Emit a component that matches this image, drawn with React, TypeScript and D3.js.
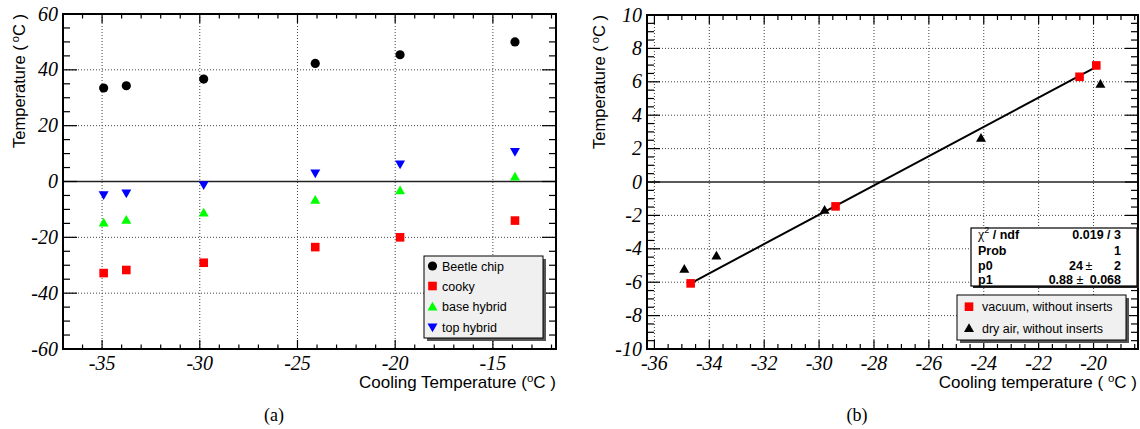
import React from "react";
import * as d3 from "d3";

// ---------- Panel (a) data ----------
const coolingA = [-34.92, -33.76, -29.8, -24.09, -19.75, -13.87];
const beetleChip = [33.5, 34.3, 36.7, 42.3, 45.4, 50.0];
const cooky = [-32.8, -31.7, -29.1, -23.5, -20.0, -14.0];
const baseHybrid = [-14.8, -13.8, -11.2, -6.6, -3.2, 1.7];
const topHybrid = [-4.8, -4.2, -1.25, 3.0, 6.2, 10.7];
const ticksAX = [-35, -30, -25, -20, -15];
const ticksAY = [-60, -40, -20, 0, 20, 40, 60];
const legendA = ["Beetle chip", "cooky", "base hybrid", "top hybrid"];

// ---------- Panel (b) data ----------
const vacuumX = [-34.68, -29.4, -20.51, -19.9];
const vacuumY = [-6.07, -1.46, 6.3, 6.98];
const dryAirX = [-34.91, -33.74, -29.8, -24.1, -19.75];
const dryAirY = [-5.21, -4.41, -1.68, 2.63, 5.87];
const fitP0 = 24.35;
const fitP1 = 0.877;
const ticksBX = [-36, -34, -32, -30, -28, -26, -24, -22, -20];
const ticksBY = [-10, -8, -6, -4, -2, 0, 2, 4, 6, 8, 10];
const legendB = ["vacuum, without inserts", "dry air, without inserts"];
const statsLabels = ["Prob", "p0", "p1"];
const statsValues = ["1", "24", "0.88"];
const statsErrors = ["", "2", "0.068"];

const SANS = "Liberation Sans, Arial, Helvetica, sans-serif";
const SERIF = "Liberation Serif, Times New Roman, Times, DejaVu Serif, serif";

type Box = { x0: number; x1: number; y0: number; y1: number };

function Marker({ type, x, y, color }: { type: string; x: number; y: number; color: string }) {
  if (type === "circle") return <circle cx={x} cy={y} r={4.6} fill={color} />;
  if (type === "square") return <rect x={x - 4.3} y={y - 4.3} width={8.6} height={8.6} fill={color} />;
  const s = 5;
  if (type === "up")
    return <path d={`M${x},${y - s} L${x + s},${y + s * 0.75} L${x - s},${y + s * 0.75} Z`} fill={color} />;
  return <path d={`M${x},${y + s} L${x + s},${y - s * 0.75} L${x - s},${y - s * 0.75} Z`} fill={color} />;
}

function Frame({
  box, xs, ys, majorX, minorX, majorY, minorY, tl,
}: {
  box: Box; xs: any; ys: any; majorX: number[]; minorX: number[]; majorY: number[]; minorY: number[];
  tl: { xM: number; xm: number; yM: number; ym: number };
}) {
  const els: React.ReactNode[] = [];
  majorX.forEach((v, i) =>
    els.push(<line key={"gx" + i} x1={xs(v)} x2={xs(v)} y1={box.y0} y2={box.y1} stroke="#444" strokeWidth={1} strokeDasharray="1,2" />)
  );
  majorY.filter((v) => v !== 0).forEach((v, i) =>
    els.push(<line key={"gy" + i} x1={box.x0} x2={box.x1} y1={ys(v)} y2={ys(v)} stroke="#444" strokeWidth={1} strokeDasharray="1,2" />)
  );
  els.push(<line key="zero" x1={box.x0} x2={box.x1} y1={ys(0)} y2={ys(0)} stroke="#222" strokeWidth={1.6} />);
  const tick = (key: string, x1: number, y1: number, x2: number, y2: number) =>
    els.push(<line key={key} x1={x1} y1={y1} x2={x2} y2={y2} stroke="#000" strokeWidth={1.2} />);
  minorX.forEach((v, i) => {
    const isM = majorX.includes(v);
    const L = isM ? tl.xM : tl.xm;
    tick("tb" + i, xs(v), box.y1, xs(v), box.y1 - L);
    tick("tt" + i, xs(v), box.y0, xs(v), box.y0 + L);
  });
  minorY.forEach((v, i) => {
    const isM = majorY.includes(v);
    const L = isM ? tl.yM : tl.ym;
    tick("tl" + i, box.x0, ys(v), box.x0 + L, ys(v));
    tick("tr" + i, box.x1, ys(v), box.x1 - L, ys(v));
  });
  els.push(
    <rect key="frame" x={box.x0} y={box.y0} width={box.x1 - box.x0} height={box.y1 - box.y0} fill="none" stroke="#000" strokeWidth={2} />
  );
  majorX.forEach((v, i) =>
    els.push(
      <text key={"lx" + i} x={xs(v)} y={box.y1 + 21} textAnchor="middle" fontFamily={SERIF} fontStyle="italic" fontSize={20}>
        {String(v)}
      </text>
    )
  );
  majorY.forEach((v, i) =>
    els.push(
      <text key={"ly" + i} x={box.x0 - 5} y={ys(v) + 6.5} textAnchor="end" fontFamily={SERIF} fontStyle="italic" fontSize={20}>
        {String(v)}
      </text>
    )
  );
  return <g>{els}</g>;
}

function YTitle({ x, y }: { x: number; y: number }) {
  return (
    <text transform={`translate(${x},${y}) rotate(-90)`} textAnchor="end" fontFamily={SANS} fontSize={16.5}>
      Temperature (<tspan fontSize={11} dy={-6}> o</tspan>
      <tspan dy={6}>C )</tspan>
    </text>
  );
}

export default function App() {
  const boxA: Box = { x0: 63, x1: 556, y0: 14, y1: 349 };
  const xa = d3.scaleLinear().domain([-37, -11.77]).range([boxA.x0, boxA.x1]);
  const ya = d3.scaleLinear().domain([-60, 60]).range([boxA.y1, boxA.y0]);
  const minorAX = d3.range(-37, -11, 1);
  const minorAY = d3.range(-60, 61, 5);

  const boxB: Box = { x0: 647, x1: 1138, y0: 15, y1: 349 };
  const xb = d3.scaleLinear().domain([-36.27, -18.38]).range([boxB.x0, boxB.x1]);
  const yb = d3.scaleLinear().domain([-10, 10]).range([boxB.y1, boxB.y0]);
  const minorBX = d3.range(-36, -18.3, 0.5).map((v) => Math.round(v * 10) / 10);
  const minorBY = d3.range(-10, 10.01, 0.5).map((v) => Math.round(v * 10) / 10);

  const seriesA = [
    { vals: beetleChip, type: "circle", color: "#000" },
    { vals: cooky, type: "square", color: "#ff0000" },
    { vals: baseHybrid, type: "up", color: "#00ff00" },
    { vals: topHybrid, type: "down", color: "#0000ff" },
  ];

  const fitLine = d3
    .line<number>()
    .x((v) => xb(v))
    .y((v) => yb(fitP0 + fitP1 * v));
  const fitXs = [d3.min(vacuumX) as number, d3.max(vacuumX) as number];

  const legAy = [266, 286, 306.7, 327.3];
  const statsY = [255, 270, 284];
  const statsValEnd = [1121, 1083, 1073];
  const statsPm = [0, 1089, 1080];
  const SF = 12.5;

  return (
    <svg width={1140} height={429} style={{ position: "absolute", left: 0, top: 0, background: "#fff" }}>
      {/* ---------------- Panel (a) ---------------- */}
      <Frame box={boxA} xs={xa} ys={ya} majorX={ticksAX} minorX={minorAX} majorY={ticksAY} minorY={minorAY}
        tl={{ xM: 9, xm: 4.5, yM: 14, ym: 7 }} />
      {seriesA.map((s, si) =>
        s.vals.map((v, i) => <Marker key={`a${si}-${i}`} type={s.type} x={xa(coolingA[i])} y={ya(v)} color={s.color} />)
      )}
      <rect x={427} y={259} width={119} height={82} fill="#555" />
      <rect x={424} y={256} width={119} height={82} fill="#f0f0f0" stroke="#000" strokeWidth={1} />
      {legendA.map((t, i) => (
        <g key={"la" + i}>
          <Marker type={seriesA[i].type} x={432.5} y={legAy[i]} color={seriesA[i].color} />
          <text x={442} y={legAy[i] + 4.5} fontFamily={SANS} fontSize={12.5}>{t}</text>
        </g>
      ))}
      <YTitle x={25} y={14} />
      <text x={556} y={388} textAnchor="end" fontFamily={SANS} fontSize={17}>
        Cooling Temperature (<tspan fontSize={11.5} dy={-6}>o</tspan>
        <tspan dy={6}>C )</tspan>
      </text>
      <text x={274} y={421} textAnchor="middle" fontFamily={SERIF} fontSize={18}>(a)</text>

      {/* ---------------- Panel (b) ---------------- */}
      <Frame box={boxB} xs={xb} ys={yb} majorX={ticksBX} minorX={minorBX} majorY={ticksBY} minorY={minorBY}
        tl={{ xM: 9, xm: 5, yM: 13, ym: 7 }} />
      <path d={fitLine(fitXs) || ""} stroke="#000" strokeWidth={2} fill="none" />
      {vacuumX.map((v, i) => <Marker key={"v" + i} type="square" x={xb(v)} y={yb(vacuumY[i])} color="#ff0000" />)}
      {dryAirX.map((v, i) => <Marker key={"d" + i} type="up" x={xb(v)} y={yb(dryAirY[i])} color="#000" />)}

      {/* stats box */}
      <rect x={973} y={230} width={166} height={58} fill="#222" />
      <rect x={971} y={228} width={166} height={58} fill="#fff" stroke="#000" strokeWidth={1.2} />
      <text x={978} y={239} fontFamily={SANS} fontSize={SF} fontWeight="bold">
        <tspan fontFamily={SERIF} fontWeight="normal" fontSize={14}>χ</tspan>
        <tspan fontSize={9} dy={-6} fontWeight="normal">2</tspan>
        <tspan dy={6}> / ndf</tspan>
      </text>
      <text x={1121} y={239} textAnchor="end" fontFamily={SANS} fontSize={SF} fontWeight="bold">0.019 / 3</text>
      {statsLabels.map((t, i) => (
        <g key={"st" + i}>
          <text x={978} y={statsY[i]} fontFamily={SANS} fontSize={SF} fontWeight="bold">{t}</text>
          {statsErrors[i] === "" ? (
            <text x={1121} y={statsY[i]} textAnchor="end" fontFamily={SANS} fontSize={SF} fontWeight="bold">{statsValues[i]}</text>
          ) : (
            <>
              <text x={statsValEnd[i]} y={statsY[i]} textAnchor="end" fontFamily={SANS} fontSize={SF} fontWeight="bold">{statsValues[i]}</text>
              <text x={statsPm[i]} y={statsY[i]} textAnchor="middle" fontFamily={SANS} fontSize={SF}>±</text>
              <text x={1121} y={statsY[i]} textAnchor="end" fontFamily={SANS} fontSize={SF} fontWeight="bold">{statsErrors[i]}</text>
            </>
          )}
        </g>
      ))}

      <rect x={960} y={298} width={169} height={45} fill="#555" />
      <rect x={957} y={295} width={169} height={45} fill="#f0f0f0" stroke="#000" strokeWidth={1} />
      <Marker type="square" x={969} y={306.7} color="#ff0000" />
      <text x={982} y={311.2} fontFamily={SANS} fontSize={12.5}>{legendB[0]}</text>
      <Marker type="up" x={969} y={328.3} color="#000" />
      <text x={982} y={332.8} fontFamily={SANS} fontSize={12.5}>{legendB[1]}</text>

      <YTitle x={605} y={15} />
      <text x={1137} y={388} textAnchor="end" fontFamily={SANS} fontSize={17}>
        Cooling temperature ( <tspan fontSize={11.5} dy={-6}>o</tspan>
        <tspan dy={6}>C )</tspan>
      </text>
      <text x={857} y={421} textAnchor="middle" fontFamily={SERIF} fontSize={18}>(b)</text>
    </svg>
  );
}
